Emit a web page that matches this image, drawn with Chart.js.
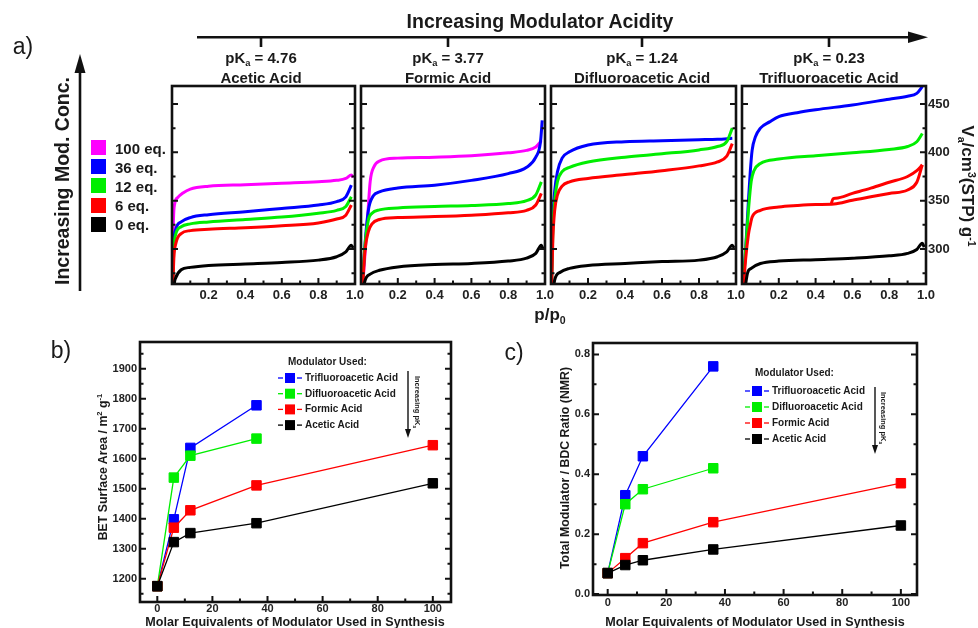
<!DOCTYPE html>
<html>
<head>
<meta charset="utf-8">
<script src="https://cdn.jsdelivr.net/npm/chart.js@4.4.1/dist/chart.umd.min.js"></script>
<style>
html,body{margin:0;padding:0;background:#fff;}
body{width:978px;height:628px;position:relative;overflow:hidden;font-family:"Liberation Sans",Arial,sans-serif;color:#1a1a1a;}
canvas{position:absolute;}
.t{position:absolute;white-space:nowrap;font-weight:bold;line-height:1;z-index:3;}
.cx{transform:translate(-50%,-50%);}
.lx{transform:translate(0,-50%);}
.rl{transform:translate(-50%,-50%) rotate(-90deg);}
.rr{transform:translate(-50%,-50%) rotate(90deg);}
.pl{font-weight:normal;}
sub,sup{font-size:62%;line-height:0;position:relative;vertical-align:baseline;}
sub{top:0.35em;} sup{top:-0.6em;}
</style>
</head>
<body>
<svg id="ov" width="978" height="628" style="position:absolute;left:0;top:0;z-index:2"></svg>
<script>
// ---------------- DATA ----------------
const ACIDS = ['Acetic Acid', 'Formic Acid', 'Difluoroacetic Acid', 'Trifluoroacetic Acid'];
const PKA = ['4.76', '3.77', '1.24', '0.23'];
const EQ_LABELS = ['100 eq.', '36 eq.', '12 eq.', '6 eq.', '0 eq.'];
const ISO_X_TICKS = [0.2, 0.4, 0.6, 0.8, 1.0];
const ISO_Y_TICKS = [300, 350, 400, 450];
const EQ_TICKS = [0, 20, 40, 60, 80, 100];
const BET_TICKS = [1200, 1300, 1400, 1500, 1600, 1700, 1800, 1900];
const NMR_TICKS = [0, 0.2, 0.4, 0.6, 0.8];
const LEGEND_ACIDS = ['Trifluoroacetic Acid', 'Difluoroacetic Acid', 'Formic Acid', 'Acetic Acid'];

// isotherms: [p/p0, volume]
const AA_100 = [[0.001,250],[0.008,330],[0.015,347],[0.03,353],[0.06,358],[0.1,362],[0.2,365],[0.4,366.5],[0.6,368],[0.8,369.5],[0.9,371],[0.95,373],[0.98,376.5],[0.99,374]];
const AA_36 = [[0.001,240],[0.01,305],[0.02,320],[0.05,328],[0.1,332.5],[0.2,335.5],[0.4,338.5],[0.6,342],[0.8,345.5],[0.9,349],[0.95,354],[0.98,366]];
const AA_12 = [[0.001,240],[0.01,300],[0.02,315],[0.05,323],[0.1,326],[0.2,328],[0.4,330.5],[0.6,333],[0.8,337],[0.9,340],[0.95,344],[0.98,354]];
const AA_6 = [[0.001,235],[0.01,290],[0.02,305],[0.05,316],[0.1,319],[0.2,320.5],[0.4,322],[0.6,324],[0.8,327],[0.9,331],[0.95,335],[0.98,345.5]];
const AA_0 = [[0.005,220],[0.012,262],[0.02,270],[0.05,278.5],[0.1,281],[0.2,283],[0.4,284.5],[0.6,286],[0.8,288.5],[0.9,292],[0.95,297],[0.98,304],[0.99,301]];

const FA_100 = [[0.001,240],[0.02,290],[0.035,330],[0.05,370],[0.07,385],[0.1,391],[0.2,394],[0.4,395],[0.6,396.5],[0.8,399.5],[0.9,402],[0.95,405.5],[0.98,412]];
const FA_36 = [[0.001,240],[0.02,300],[0.04,340],[0.067,355],[0.1,359],[0.2,363],[0.4,366],[0.6,371],[0.8,378],[0.9,384.5],[0.95,395],[0.975,410],[0.985,433]];
const FA_12 = [[0.001,235],[0.02,300],[0.04,330],[0.06,337],[0.1,340.5],[0.2,342.5],[0.4,344],[0.6,345],[0.8,347],[0.9,350],[0.95,356],[0.98,369.5]];
const FA_6 = [[0.001,230],[0.02,295],[0.04,318],[0.06,326],[0.1,330.5],[0.2,332.5],[0.4,333.5],[0.6,335],[0.8,337.5],[0.9,340],[0.95,345.5],[0.98,357.5]];
const FA_0 = [[0.005,240],[0.02,266],[0.05,274],[0.1,278],[0.2,281.5],[0.4,284],[0.6,285],[0.8,287.5],[0.9,290.5],[0.95,295.5],[0.98,304],[0.99,299.5]];

const DFA_36 = [[0.001,250],[0.01,330],[0.02,360],[0.035,380],[0.06,394],[0.1,400.5],[0.2,407.5],[0.4,411],[0.6,412],[0.8,413],[0.9,413.5],[0.98,414.5]];
const DFA_12 = [[0.001,245],[0.01,320],[0.02,350],[0.035,370],[0.06,380],[0.1,384.5],[0.2,390],[0.4,395],[0.6,398.5],[0.8,402.5],[0.9,406],[0.95,411],[0.98,425]];
const DFA_6 = [[0.001,240],[0.01,310],[0.02,340],[0.035,356],[0.06,365],[0.1,369.5],[0.2,373],[0.4,377],[0.6,381],[0.8,386],[0.9,390],[0.95,396],[0.98,409]];
const DFA_0 = [[0.005,245],[0.02,268],[0.05,276],[0.1,280],[0.2,283],[0.4,285],[0.6,287],[0.8,288.5],[0.9,292],[0.95,297],[0.98,304],[0.99,301]];

const TFA_36 = [[0.001,250],[0.02,300],[0.035,350],[0.045,380],[0.055,402],[0.073,416],[0.1,425],[0.15,431.5],[0.2,437],[0.3,441],[0.4,444],[0.6,449],[0.8,455],[0.9,458],[0.95,461],[0.98,468]];
const TFA_12 = [[0.001,245],[0.02,300],[0.035,340],[0.05,370],[0.065,381],[0.1,388.5],[0.2,393],[0.4,396.5],[0.6,399.5],[0.8,403],[0.9,406],[0.95,411],[0.98,419.5]];
const TFA_6 = [[0.001,240],[0.02,290],[0.035,315],[0.045,325],[0.055,333],[0.1,340],[0.2,343.5],[0.3,345],[0.4,346],[0.5,346.5],[0.6,350.5],[0.7,354],[0.8,357.5],[0.9,361],[0.95,369],[0.98,387]];
const TFA_6_DES = [[0.485,346.5],[0.495,352],[0.51,352.5],[0.6,357.5],[0.7,363],[0.8,369],[0.9,375],[0.95,381],[0.98,387]];
const TFA_0 = [[0.01,250],[0.03,275],[0.05,280],[0.1,285],[0.2,287.5],[0.4,289],[0.6,290.5],[0.8,293],[0.9,295.5],[0.95,299.5],[0.98,306],[0.99,302]];

// panel b/c
const EQUIV = [0, 6, 12, 36, 100];
const BET_AA = [1175, 1322, 1352, 1385, 1518];
const BET_FA = [1175, 1370, 1428, 1511, 1645];
const BET_DFA = [1175, 1537, 1610, 1667];
const BET_TFA = [1175, 1398, 1636, 1778];
const NMR_AA = [0.07, 0.097, 0.113, 0.149, 0.229];
const NMR_FA = [0.07, 0.12, 0.17, 0.24, 0.37];
const NMR_DFA = [0.07, 0.30, 0.35, 0.42];
const NMR_TFA = [0.07, 0.33, 0.46, 0.76];

// ---------------- STYLE ----------------
const MAG = '#ff00ff', BLU = '#0000ff', GRN = '#00ee00', RED = '#ff0000', BLK = '#000000';
const EQ_COLORS = [MAG, BLU, GRN, RED, BLK];
const ACID_COLORS = [BLU, GRN, RED, BLK];

Chart.defaults.font.family = '"Liberation Sans", Arial, sans-serif';

const framePlugin = {
  id: 'frame',
  afterDatasetsDraw(chart, args, o) {
    const {ctx, chartArea: a} = chart;
    const xs = chart.scales.x, ys = chart.scales.y;
    ctx.save();
    ctx.strokeStyle = '#111';
    ctx.lineWidth = o.tickW;
    ctx.beginPath();
    const i0 = Math.ceil(xs.min / o.xMinor - 1e-6), i1 = Math.floor(xs.max / o.xMinor + 1e-6);
    for (let i = i0; i <= i1; i++) {
      const px = xs.getPixelForValue(i * o.xMinor);
      const len = (i % o.xEvery === 0) ? o.major : o.minor;
      ctx.moveTo(px, a.bottom); ctx.lineTo(px, a.bottom - len);
    }
    const j0 = Math.ceil(ys.min / o.yMinor - 1e-6), j1 = Math.floor(ys.max / o.yMinor + 1e-6);
    for (let j = j0; j <= j1; j++) {
      const py = ys.getPixelForValue(j * o.yMinor);
      const len = (j % o.yEvery === 0) ? o.major : o.minor;
      ctx.moveTo(a.left, py); ctx.lineTo(a.left + len, py);
      ctx.moveTo(a.right, py); ctx.lineTo(a.right - len, py);
    }
    ctx.stroke();
    ctx.lineWidth = o.frameW;
    ctx.strokeRect(a.left, a.top, a.right - a.left, a.bottom - a.top);
    ctx.restore();
  }
};

function makeCanvas(left, top, w, h) {
  const c = document.createElement('canvas');
  c.width = w; c.height = h;
  c.style.left = left + 'px'; c.style.top = top + 'px';
  c.style.width = w + 'px'; c.style.height = h + 'px';
  document.body.appendChild(c);
  return c;
}

// ---------------- PANEL A ----------------
const ISO_GEOM = [{L:172, R:355}, {L:361, R:545}, {L:551, R:736}, {L:742, R:926}];
const ISO_T = 86, ISO_B = 284, ISO_YMIN = 263.8, ISO_YMAX = 468.6;
const ISO_SERIES = [
  [[AA_0, BLK], [AA_6, RED], [AA_12, GRN], [AA_36, BLU], [AA_100, MAG]],
  [[FA_0, BLK], [FA_6, RED], [FA_12, GRN], [FA_36, BLU], [FA_100, MAG]],
  [[DFA_0, BLK], [DFA_6, RED], [DFA_12, GRN], [DFA_36, BLU]],
  [[TFA_0, BLK], [TFA_6, RED], [TFA_6_DES, RED], [TFA_12, GRN], [TFA_36, BLU]]
];

function isoChart(i) {
  const g = ISO_GEOM[i];
  const hasY = i === 3;
  const padL = 16, padR = hasY ? 6 : 16, padT = 12, xh = 24, yw = 44;
  const W = (g.R - g.L) + padL + padR + (hasY ? yw : 0);
  const H = (ISO_B - ISO_T) + padT + xh;
  const cv = makeCanvas(g.L - padL, ISO_T - padT, W, H);
  new Chart(cv, {
    type: 'line',
    data: {
      datasets: ISO_SERIES[i].map(([d, c]) => ({
        data: d.map(([x, y]) => ({x, y})),
        borderColor: c, borderWidth: 3, pointRadius: 0,
        cubicInterpolationMode: 'monotone', fill: false
      }))
    },
    options: {
      responsive: false, animation: false, events: [],
      layout: {padding: {left: padL, right: padR, top: padT, bottom: 0}},
      plugins: {legend: {display: false}, tooltip: {enabled: false},
        frame: {xMinor: 0.1, xEvery: 2, yMinor: 25, yEvery: 2, major: 6, minor: 3.5, tickW: 2, frameW: 2.6}},
      scales: {
        x: {type: 'linear', min: 0, max: 1.0,
          grid: {display: false, drawTicks: false}, border: {display: false},
          afterBuildTicks: s => { s.ticks = ISO_X_TICKS.map(v => ({value: v})); },
          afterFit: s => { s.height = xh; },
          ticks: {padding: 4, autoSkip: false, maxRotation: 0, color: '#222',
            font: {size: 13, weight: 'bold'}, callback: v => Number(v).toFixed(1)}},
        y: {type: 'linear', position: 'right', display: hasY, min: ISO_YMIN, max: ISO_YMAX,
          grid: {display: false, drawTicks: false}, border: {display: false},
          afterBuildTicks: s => { s.ticks = ISO_Y_TICKS.map(v => ({value: v})); },
          afterFit: s => { if (hasY) s.width = yw; },
          ticks: {padding: 2, autoSkip: false, color: '#222', font: {size: 13, weight: 'bold'}}}
      }
    },
    plugins: [framePlugin]
  });
}
for (let i = 0; i < 4; i++) isoChart(i);

// ---------------- PANELS B, C ----------------
function dataChart(g, sets, yr, xr, yTicks, yFmt, yMinor) {
  const padT = 10, xh = 14;
  const cv = makeCanvas(g.L - g.yw, g.T - padT, (g.R - g.L) + g.yw + g.padR, (g.B - g.T) + padT + xh);
  new Chart(cv, {
    type: 'line',
    data: {
      datasets: sets.map(([v, c]) => ({
        data: v.map((y, k) => ({x: EQUIV[k], y})),
        borderColor: c, backgroundColor: c, borderWidth: 1.3, tension: 0,
        pointStyle: 'rect', pointRadius: 6.7, pointBorderWidth: 1,
        pointBorderColor: c, pointBackgroundColor: c
      }))
    },
    options: {
      responsive: false, animation: false, events: [],
      layout: {padding: {left: 0, right: g.padR, top: padT, bottom: 0}},
      plugins: {legend: {display: false}, tooltip: {enabled: false},
        frame: {xMinor: 10, xEvery: 2, yMinor: yMinor, yEvery: 2, major: 6, minor: 3.5, tickW: 2, frameW: 2.6}},
      scales: {
        x: {type: 'linear', min: xr[0], max: xr[1],
          grid: {display: false, drawTicks: false}, border: {display: false},
          afterBuildTicks: s => { s.ticks = EQ_TICKS.map(v => ({value: v})); },
          afterFit: s => { s.height = xh; },
          ticks: {padding: g.xpad, autoSkip: false, maxRotation: 0, color: '#222', font: {size: 11, weight: 'bold'}}},
        y: {type: 'linear', min: yr[0], max: yr[1],
          grid: {display: false, drawTicks: false}, border: {display: false},
          afterBuildTicks: s => { s.ticks = yTicks.map(v => ({value: v})); },
          afterFit: s => { s.width = g.yw; },
          ticks: {padding: 3, autoSkip: false, color: '#222', font: {size: 11, weight: 'bold'}, callback: yFmt}}
      }
    },
    plugins: [framePlugin]
  });
}
dataChart({L: 140, R: 451, T: 342, B: 602, yw: 60, padR: 14, xpad: 0},
  [[BET_AA, BLK], [BET_FA, RED], [BET_DFA, GRN], [BET_TFA, BLU]],
  [1122.3, 1989], [-6.28, 106.6], BET_TICKS, v => String(v), 50);
dataChart({L: 593, R: 917, T: 343, B: 595, yw: 60, padR: 16, xpad: 1},
  [[NMR_AA, BLK], [NMR_FA, RED], [NMR_DFA, GRN], [NMR_TFA, BLU]],
  [-0.003, 0.838], [-5.01, 105.5], NMR_TICKS, v => Number(v).toFixed(1), 0.1);

// ---------------- ANNOTATIONS ----------------
function addText(html, x, y, size, cls, extra) {
  const d = document.createElement('div');
  d.className = 't ' + (cls || 'cx');
  d.style.left = x + 'px'; d.style.top = y + 'px'; d.style.fontSize = size + 'px';
  if (extra) Object.assign(d.style, extra);
  d.innerHTML = html;
  document.body.appendChild(d);
  return d;
}
const ov = document.getElementById('ov');
const NS = 'http://www.w3.org/2000/svg';
function svgEl(tag, attrs) {
  const e = document.createElementNS(NS, tag);
  for (const k in attrs) e.setAttribute(k, attrs[k]);
  ov.appendChild(e);
  return e;
}
function line(x1, y1, x2, y2, w, c) { svgEl('line', {x1, y1, x2, y2, stroke: c || '#111', 'stroke-width': w}); }
function poly(pts, c) { svgEl('polygon', {points: pts, fill: c || '#111'}); }

// panel labels
addText('a)', 23, 46, 23, 'cx pl');
addText('b)', 61, 350, 23, 'cx pl');
addText('c)', 514, 352, 23, 'cx pl');

// top arrow
addText('Increasing Modulator Acidity', 540, 22, 19.5);
line(197, 37.3, 912, 37.3, 2.6);
poly('928,37.3 908,31.5 908,43.1');
const HEAD_X = [261, 448, 642, 829];
HEAD_X.forEach((x, i) => {
  line(x, 37, x, 47, 2.6);
  addText('pK<sub>a</sub> = ' + PKA[i], x, 57, 15);
  addText(ACIDS[i], x, 76.5, 15);
});

// left arrow + legend
line(80, 291, 80, 68, 2.6);
poly('80,54 74.5,73 85.5,73');
addText('Increasing Mod. Conc.', 63, 181, 19.5, 'rl');
EQ_LABELS.forEach((lab, k) => {
  const y = 147.5 + k * 19.2;
  const sq = document.createElement('div');
  Object.assign(sq.style, {position: 'absolute', left: '91px', top: (y - 7.5) + 'px', width: '15px', height: '15px', background: EQ_COLORS[k], zIndex: 3});
  document.body.appendChild(sq);
  addText(lab, 115, y, 15, 'lx');
});

// axis titles
addText('p/p<sub>0</sub>', 550, 314, 17);
addText('V<sub>a</sub>/cm<sup>3</sup>(STP) g<sup>-1</sup>', 967, 186, 17, 'rr');
addText('BET Surface Area / m<sup>2</sup> g<sup>-1</sup>', 103, 467, 12.3, 'rl');
addText('Molar Equivalents of Modulator Used in Synthesis', 295, 622, 12.6);
addText('Total Modulator / BDC Ratio (NMR)', 565, 468, 12.3, 'rl');
addText('Molar Equivalents of Modulator Used in Synthesis', 755, 622, 12.6);

// legends for b and c
function dataLegend(x0, yTitle, yRows, dy, arrowX, arrowTop, arrowTip, textX) {
  addText('Modulator Used:', x0 + 10, yTitle, 10, 'lx');
  LEGEND_ACIDS.forEach((lab, k) => {
    const y = yRows + k * dy;
    const c = ACID_COLORS[k];
    line(x0, y, x0 + 5, y, 1.3, c);
    line(x0 + 19, y, x0 + 24, y, 1.3, c);
    svgEl('rect', {x: x0 + 7, y: y - 5, width: 10, height: 10, fill: c});
    addText(lab, x0 + 27, y, 10, 'lx');
  });
  line(arrowX, arrowTop, arrowX, arrowTip - 8, 1.4);
  poly(`${arrowX},${arrowTip} ${arrowX - 3},${arrowTip - 9} ${arrowX + 3},${arrowTip - 9}`);
  addText('Increasing pK<sub>a</sub>', textX, (arrowTop + arrowTip) / 2 - 3, 7.5, 'rr');
}
dataLegend(278, 362, 378, 15.7, 408, 371, 438, 417);
dataLegend(745, 373, 391, 16, 875, 387, 454, 883);
</script>
</body>
</html>
